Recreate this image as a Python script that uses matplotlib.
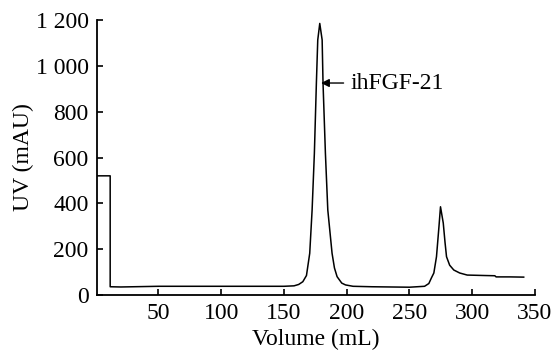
import matplotlib
matplotlib.use('Agg')
import matplotlib.pyplot as plt
from matplotlib.ticker import FuncFormatter

plt.rcParams['font.family'] = ['Liberation Serif', 'DejaVu Serif']

# chromatogram trace
vol = [1, 11.5, 11.5, 20, 50, 100, 150, 158, 161.7, 165, 167.9, 170.5, 172.4,
       174.2, 175.8, 176.9, 178.5, 180.4, 181.1, 183, 184.9, 188.3, 190.2, 192.3,
       196, 199, 205, 220, 235, 250, 262, 265.4, 267.5, 269.4, 271.5, 273.5,
       274.7, 276.9, 278.3, 279.5, 282, 285.3, 290, 296, 310, 318, 319, 330, 341]
uv = [520, 520, 36, 35, 38, 38, 38, 40, 46, 58, 85, 182, 371,
      618, 924, 1113, 1185, 1113, 924, 618, 371, 182, 118, 80,
      52, 44, 38, 36, 35, 34, 38, 50, 75, 96, 167, 300,
      385, 314, 230, 167, 130, 109, 96, 87, 85, 84, 79, 79, 78]

x_ticks = [50, 100, 150, 200, 250, 300, 350]
y_ticks = [0, 200, 400, 600, 800, 1000, 1200]

peak_label = 'ihFGF-21'
peak_xy = (179.5, 925)
label_xy = (203, 925)

fig = plt.figure(figsize=(5.52, 3.57), dpi=100)
ax = fig.add_axes([97 / 552, 62 / 357, 438 / 552, 275 / 357])

ax.plot(vol, uv, color='black', lw=1.1)

ax.annotate(peak_label, xy=peak_xy, xytext=label_xy, va='center', ha='left',
            fontsize=17,
            arrowprops=dict(arrowstyle='-|>', color='black', lw=1,
                            mutation_scale=12, shrinkA=3, shrinkB=0))

ax.set_xlim(1, 350)
ax.set_ylim(0, 1200)
ax.set_xticks(x_ticks)
ax.set_yticks(y_ticks)
ax.yaxis.set_major_formatter(FuncFormatter(lambda v, p: f'{int(v):,}'.replace(',', ' ')))

ax.spines['top'].set_visible(False)
ax.spines['right'].set_visible(False)
for s in ('left', 'bottom'):
    ax.spines[s].set_linewidth(1.3)
ax.tick_params(direction='in', length=4, width=1.2, labelsize=17, pad=6)

ax.set_xlabel('Volume (mL)', fontsize=17, labelpad=3)
ax.set_ylabel('UV (mAU)', fontsize=17, labelpad=1)

fig.savefig('out.png', dpi=100)
